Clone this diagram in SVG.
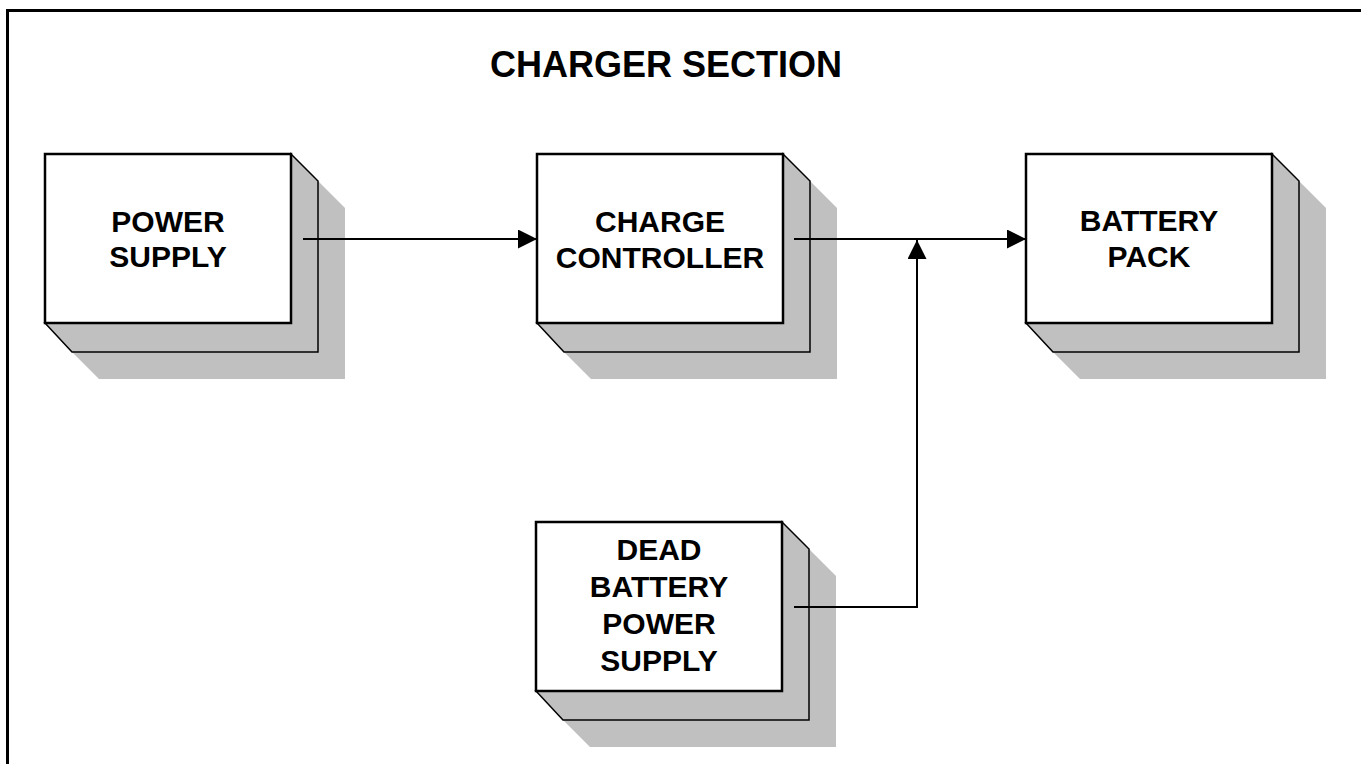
<svg xmlns="http://www.w3.org/2000/svg" xmlns:xlink="http://www.w3.org/1999/xlink" width="1361" height="764" viewBox="0 0 1361 764">
<style>
.shadow{fill:#c0c0c0;stroke:none}
.mid{fill:#c0c0c0;stroke:#000;stroke-width:1.5;stroke-linejoin:miter}
.front{fill:#fff;stroke:#000;stroke-width:2.5}
.lbl{font-family:"Liberation Sans",Arial,sans-serif;font-weight:bold;font-size:30px;fill:#000;text-anchor:middle}
.title{font-family:"Liberation Sans",Arial,sans-serif;font-weight:bold;font-size:36px;fill:#000;text-anchor:middle}
.conn{fill:none;stroke:#000;stroke-width:2}
</style>
<defs>
<g id="box3d">
<polygon class="shadow" points="273,27 300,54 300,225 54,225 27,198 273,198"/>
<polygon class="mid" points="246,0 273,27 273,198 27,198 0,169 246,169"/>
<rect class="front" x="0" y="0" width="246" height="169"/>
</g>
<marker id="arr" markerUnits="userSpaceOnUse" markerWidth="20" markerHeight="20" refX="19" refY="9.5" orient="auto">
<path d="M0,0 L19,9.5 L0,19 z" fill="#000"/>
</marker>
</defs>
<rect x="0" y="0" width="1361" height="764" fill="#fff"/>
<polyline points="7.5,764 7.5,10.5 1361,10.5" fill="none" stroke="#000" stroke-width="3"/>
<text class="title" x="666" y="77">CHARGER SECTION</text>
<g id="power-supply">
<use xlink:href="#box3d" href="#box3d" transform="translate(45,154)"/>
<text class="lbl" x="168" y="232">POWER</text>
<text class="lbl" x="168" y="267">SUPPLY</text>
</g>
<g id="charge-controller">
<use xlink:href="#box3d" href="#box3d" transform="translate(537,154)"/>
<text class="lbl" x="660" y="232">CHARGE</text>
<text class="lbl" x="660" y="268">CONTROLLER</text>
</g>
<g id="battery-pack">
<use xlink:href="#box3d" href="#box3d" transform="translate(1026,154)"/>
<text class="lbl" x="1149" y="231">BATTERY</text>
<text class="lbl" x="1149" y="267">PACK</text>
</g>
<g id="dead-battery-power-supply">
<use xlink:href="#box3d" href="#box3d" transform="translate(536,522)"/>
<text class="lbl" x="659" y="560">DEAD</text>
<text class="lbl" x="659" y="597">BATTERY</text>
<text class="lbl" x="659" y="634">POWER</text>
<text class="lbl" x="659" y="671">SUPPLY</text>
</g>
<g id="connectors">
<path class="conn" d="M303,239 H537" marker-end="url(#arr)"/>
<path class="conn" d="M794,239 H1026" marker-end="url(#arr)"/>
<path class="conn" d="M794,607 H917 V240" marker-end="url(#arr)"/>
</g>
</svg>
